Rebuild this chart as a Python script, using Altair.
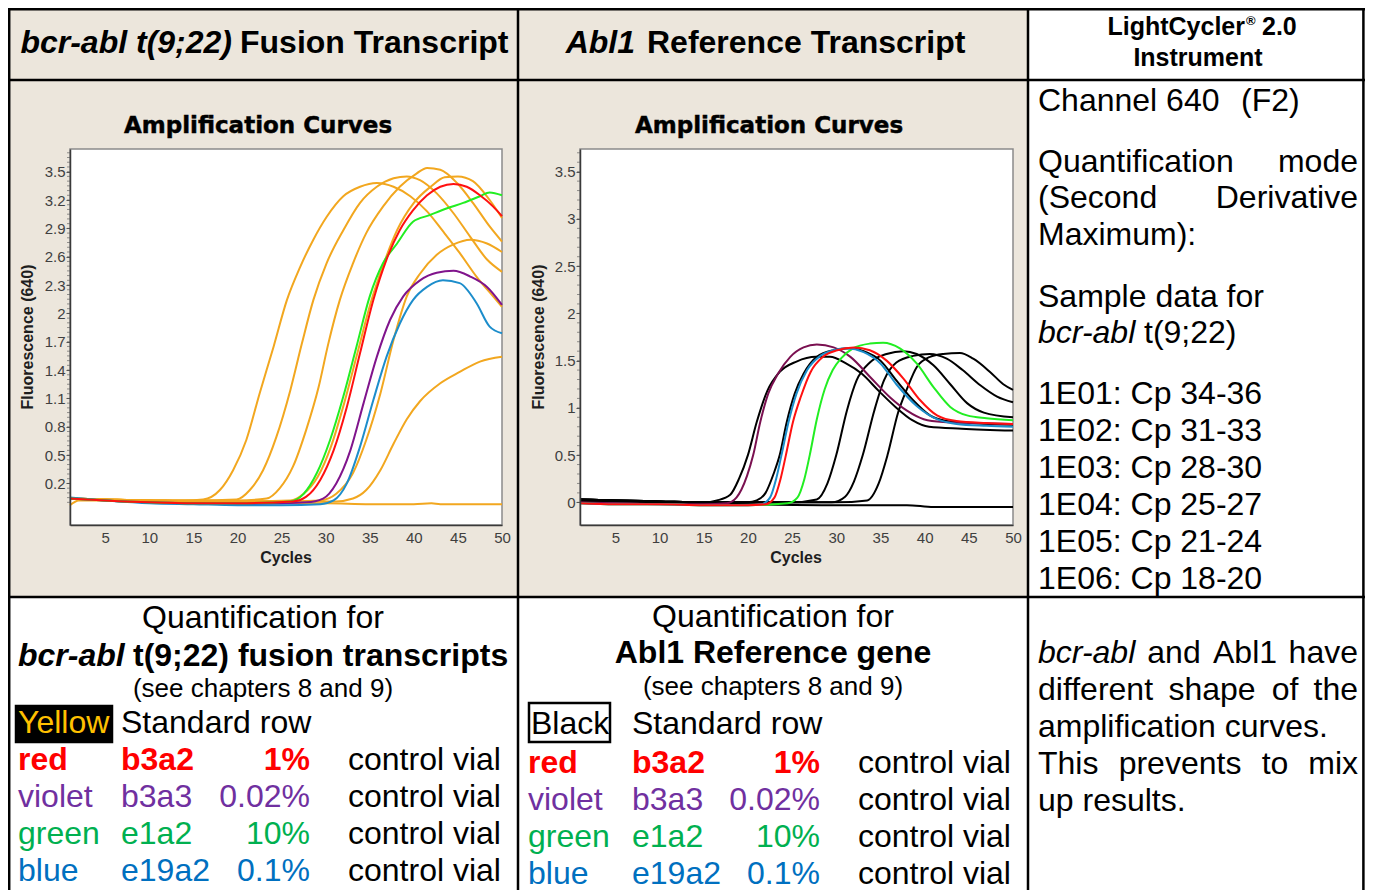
import altair as alt
import pandas as pd

W, H = 1357, 882
OFF = 8
BODY = "Liberation Sans"
HEAVY = "DejaVu Sans"


def cx(v):
    return v - OFF


def cy(v):
    return v - OFF


# ---------------- chart values ----------------
CYCLE_TICKS = [5, 10, 15, 20, 25, 30, 35, 40, 45, 50]
BCR_Y_TICKS = [0.2, 0.5, 0.8, 1.1, 1.4, 1.7, 2.0, 2.3, 2.6, 2.9, 3.2, 3.5]
ABL_Y_TICKS = [0, 0.5, 1, 1.5, 2, 2.5, 3, 3.5]
X_DOMAIN = [1, 50]
Y_DOMAIN = [-0.24, 3.74]

# bcr-abl panel: yellow standard row
BCR_1E06_C = [1, 5, 10, 14, 16.1, 18.0, 19.5, 21.0, 22.5, 24.1, 25.6, 27.1, 28.6, 30.1, 32.0, 33.9, 35.8, 37.7, 39.6, 41.5, 43.3, 45.2, 47.1, 49.0, 50]
BCR_1E06_V = [0.04, 0.03, 0.02, 0.02, 0.03, 0.13, 0.34, 0.66, 1.15, 1.65, 2.14, 2.49, 2.78, 3.02, 3.24, 3.34, 3.38, 3.34, 3.24, 3.08, 2.87, 2.64, 2.39, 2.18, 2.07]
BCR_1E05_C = [1, 5, 10, 15, 19.9, 21.4, 22.9, 24.4, 26.0, 27.3, 28.6, 30.1, 32.0, 33.9, 35.8, 37.7, 39.2, 40.7, 42.6, 44.5, 46.4, 48.3, 50]
BCR_1E05_V = [0.04, 0.03, 0.02, 0.02, 0.03, 0.13, 0.34, 0.69, 1.19, 1.68, 2.14, 2.53, 2.88, 3.17, 3.34, 3.43, 3.45, 3.41, 3.27, 3.06, 2.81, 2.57, 2.44]
BCR_1E04_C = [1, 5, 10, 15, 20, 23.3, 24.8, 26.3, 27.8, 29.2, 30.3, 31.6, 33.1, 34.6, 36.5, 38.4, 40.3, 41.5, 43.0, 44.9, 46.7, 48.6, 50]
BCR_1E04_V = [0.04, 0.03, 0.02, 0.02, 0.02, 0.04, 0.15, 0.38, 0.77, 1.22, 1.68, 2.14, 2.53, 2.85, 3.13, 3.34, 3.48, 3.54, 3.52, 3.38, 3.17, 2.92, 2.76]
BCR_1E03_C = [1, 5, 10, 15, 20, 26.0, 27.5, 29.1, 30.6, 32.1, 33.6, 35.1, 36.6, 38.1, 40.0, 41.9, 43.5, 45.0, 46.7, 48.6, 50]
BCR_1E03_V = [0.04, 0.03, 0.02, 0.01, 0.01, 0.02, 0.09, 0.27, 0.59, 1.05, 1.58, 2.11, 2.53, 2.88, 3.17, 3.34, 3.44, 3.45, 3.40, 3.20, 3.01]
BCR_1E02_C = [1, 5, 10, 15, 20, 25, 29.4, 31.2, 33.1, 34.6, 36.2, 37.7, 39.2, 40.7, 42.6, 44.5, 46.4, 48.3, 50]
BCR_1E02_V = [0.04, 0.03, 0.02, 0.01, 0.01, 0.01, 0.02, 0.09, 0.31, 0.66, 1.15, 1.72, 2.18, 2.42, 2.62, 2.73, 2.78, 2.74, 2.65]
BCR_1E01_C = [1, 5, 10, 15, 20, 25, 31.2, 33.1, 34.6, 36.2, 37.7, 39.2, 40.7, 43.0, 45.2, 47.5, 50]
BCR_1E01_V = [0.04, 0.03, 0.02, 0.01, 0.01, 0.01, 0.01, 0.04, 0.13, 0.34, 0.62, 0.88, 1.07, 1.26, 1.38, 1.49, 1.54]
BCR_NEG_C = [1, 2, 5, 10, 15, 20, 25, 30, 35, 40, 42, 43, 45, 50]
BCR_NEG_V = [-0.03, 0.02, 0.02, 0.01, 0.0, -0.01, -0.01, -0.01, -0.02, -0.02, -0.01, -0.02, -0.02, -0.02]

# bcr-abl panel: control vials
BCR_RED_C = [1, 5, 10, 15, 20, 26.3, 27.8, 29.4, 30.9, 32.4, 33.9, 35.4, 36.9, 38.4, 39.9, 41.5, 43.0, 44.5, 46.0, 47.5, 49.0, 50]
BCR_RED_V = [0.04, 0.02, 0.0, -0.01, -0.01, 0.01, 0.06, 0.24, 0.55, 1.01, 1.58, 2.14, 2.57, 2.88, 3.09, 3.25, 3.34, 3.37, 3.34, 3.25, 3.13, 3.03]
BCR_GREEN_C = [1, 5, 10, 15, 20, 26.0, 27.5, 29.0, 30.5, 32.0, 33.5, 35.0, 36.5, 38.1, 39.9, 41.8, 43.7, 45.6, 47.5, 48.6, 50]
BCR_GREEN_V = [0.04, 0.02, 0.0, -0.01, -0.01, 0.01, 0.09, 0.31, 0.66, 1.12, 1.65, 2.18, 2.53, 2.74, 2.97, 3.04, 3.11, 3.17, 3.24, 3.28, 3.25]
BCR_VIOLET_C = [1, 5, 10, 15, 20, 27.8, 29.7, 31.2, 32.8, 34.3, 35.8, 37.3, 38.8, 40.7, 42.6, 44.5, 46.4, 48.3, 50]
BCR_VIOLET_V = [0.04, 0.02, 0.0, -0.01, -0.02, 0.0, 0.04, 0.20, 0.55, 1.05, 1.54, 1.93, 2.18, 2.35, 2.43, 2.45, 2.39, 2.28, 2.09]
BCR_BLUE_C = [1, 5, 10, 15, 20, 25, 29.4, 30.9, 32.4, 33.9, 35.4, 36.9, 38.4, 39.9, 41.5, 43.3, 45.2, 47.1, 48.6, 50]
BCR_BLUE_V = [0.05, 0.02, -0.01, -0.02, -0.03, -0.03, -0.02, 0.02, 0.20, 0.59, 1.08, 1.54, 1.89, 2.14, 2.28, 2.35, 2.32, 2.11, 1.86, 1.79]

# Abl1 panel: black standard row
ABL_S1_C = [1, 5, 10, 15, 16.5, 18.0, 19.0, 20.0, 21.0, 22.2, 23.6, 25.5, 27.7, 29.3, 31.1, 32.9, 34.8, 36.7, 38.6, 40.5, 44.2, 50]
ABL_S1_V = [0.03, 0.02, 0.01, 0.0, 0.02, 0.08, 0.25, 0.5, 0.85, 1.18, 1.38, 1.49, 1.54, 1.54, 1.47, 1.36, 1.18, 1.01, 0.87, 0.80, 0.78, 0.76]
ABL_S2_C = [1, 5, 10, 15, 20, 21.0, 22.0, 22.9, 23.6, 24.4, 25.3, 26.3, 27.8, 29.7, 31.6, 33.1, 35.0, 36.8, 38.7, 40.6, 42.5, 45.2, 50]
ABL_S2_V = [0.03, 0.02, 0.01, 0.0, 0.0, 0.02, 0.1, 0.3, 0.5, 0.85, 1.15, 1.36, 1.54, 1.61, 1.63, 1.60, 1.50, 1.29, 1.08, 0.92, 0.86, 0.84, 0.82]
ABL_S3_C = [1, 5, 10, 15, 20, 25, 27.8, 29.0, 30.0, 31.2, 32.3, 33.8, 35.7, 37.6, 39.1, 41.0, 42.9, 44.8, 46.7, 50]
ABL_S3_V = [0.03, 0.02, 0.01, 0.0, 0.0, 0.0, 0.03, 0.2, 0.5, 0.97, 1.29, 1.48, 1.57, 1.60, 1.57, 1.45, 1.25, 1.05, 0.95, 0.90]
ABL_S4_C = [1, 5, 10, 15, 20, 25, 29.5, 31.0, 32.0, 33.0, 34.3, 35.4, 36.8, 38.7, 40.6, 42.5, 44.3, 46.3, 48.2, 50]
ABL_S4_V = [0.03, 0.02, 0.01, 0.0, 0.0, 0.0, 0.0, 0.06, 0.22, 0.5, 0.97, 1.29, 1.48, 1.55, 1.57, 1.52, 1.40, 1.24, 1.12, 1.06]
ABL_S5_C = [1, 5, 10, 15, 20, 25, 30, 33.5, 34.8, 35.8, 37.0, 38.0, 39.1, 40.6, 42.1, 44.0, 45.5, 47.4, 48.9, 50]
ABL_S5_V = [0.03, 0.02, 0.01, 0.0, 0.0, 0.0, 0.0, 0.02, 0.2, 0.5, 0.95, 1.2, 1.43, 1.54, 1.57, 1.58, 1.52, 1.38, 1.25, 1.19]
ABL_NEG_C = [1, 3, 10, 20, 30, 38, 41, 45, 50]
ABL_NEG_V = [0.01, 0.01, 0.0, -0.02, -0.03, -0.03, -0.05, -0.05, -0.05]

# Abl1 panel: control vials
ABL_VIOLET_C = [1, 5, 10, 15, 17.6, 18.7, 19.9, 20.6, 21.4, 22.3, 23.4, 24.8, 26.3, 27.8, 29.7, 31.6, 33.8, 36.1, 38.0, 39.9, 42.1, 45.2, 50]
ABL_VIOLET_V = [0.0, -0.01, -0.02, -0.02, -0.01, 0.05, 0.28, 0.5, 0.85, 1.15, 1.36, 1.54, 1.64, 1.67, 1.64, 1.54, 1.33, 1.11, 0.97, 0.88, 0.85, 0.84, 0.83]
ABL_BLUE_C = [1, 5, 10, 15, 20, 21.5, 22.5, 23.2, 23.8, 24.6, 25.5, 26.7, 28.2, 29.7, 31.2, 33.1, 35.0, 36.8, 39.1, 41.4, 43.6, 47.0, 50]
ABL_BLUE_V = [-0.01, -0.02, -0.02, -0.03, -0.03, -0.02, 0.05, 0.25, 0.5, 0.85, 1.15, 1.40, 1.55, 1.61, 1.63, 1.59, 1.47, 1.25, 1.02, 0.88, 0.83, 0.81, 0.80]
ABL_RED_C = [1, 5, 10, 15, 20, 22.0, 23.0, 23.7, 24.3, 25.1, 26.0, 27.1, 28.5, 30.1, 32.0, 33.8, 35.7, 37.6, 39.5, 41.4, 43.6, 47.0, 50]
ABL_RED_V = [-0.01, -0.02, -0.02, -0.03, -0.03, -0.02, 0.05, 0.25, 0.5, 0.85, 1.12, 1.38, 1.54, 1.61, 1.64, 1.61, 1.50, 1.31, 1.08, 0.92, 0.86, 0.84, 0.83]
ABL_GREEN_C = [1, 5, 10, 15, 20, 24.5, 25.6, 26.4, 27.0, 27.8, 28.7, 29.6, 30.6, 31.9, 33.8, 35.3, 37.2, 39.1, 41.0, 42.9, 44.8, 47.0, 50]
ABL_GREEN_V = [-0.01, -0.02, -0.02, -0.03, -0.03, -0.01, 0.05, 0.25, 0.5, 0.88, 1.20, 1.40, 1.53, 1.63, 1.68, 1.69, 1.63, 1.47, 1.22, 1.01, 0.92, 0.89, 0.87]

# ---------------- texts ----------------
CONTROL_NAMES = ["red", "violet", "green", "blue"]
CONTROL_CODES = ["b3a2", "b3a3", "e1a2", "e19a2"]
CONTROL_PCTS = ["1%", "0.02%", "10%", "0.1%"]
CONTROL_TEXT_COLORS = ["#FF0000", "#7030A0", "#00B050", "#0070C0"]
SAMPLE_LINES = ["1E01: Cp 34-36", "1E02: Cp 31-33", "1E03: Cp 28-30",
                "1E04: Cp 25-27", "1E05: Cp 21-24", "1E06: Cp 18-20"]

# ---------------- styles ----------------
BEIGE = "#ECE6DC"
ORANGE = "#F2A71F"
CTRL_DOMAIN = ["red", "violet", "green", "blue"]
BCR_CTRL_COLORS = ["#FF1010", "#80148C", "#22EE22", "#1C8DCB"]
ABL_CTRL_COLORS = ["#FF1010", "#7A1050", "#22EE22", "#1C8DCB"]

DUMMY = pd.DataFrame({"k": [0]})


def curves_df(curves):
    rows = []
    for name, group, cs, vs in curves:
        for c, v in zip(cs, vs):
            rows.append({"curve": name, "group": group, "cycle": c, "value": v})
    return pd.DataFrame(rows)


bcr_std = curves_df([
    ("1E06", "std", BCR_1E06_C, BCR_1E06_V), ("1E05", "std", BCR_1E05_C, BCR_1E05_V),
    ("1E04", "std", BCR_1E04_C, BCR_1E04_V), ("1E03", "std", BCR_1E03_C, BCR_1E03_V),
    ("1E02", "std", BCR_1E02_C, BCR_1E02_V), ("1E01", "std", BCR_1E01_C, BCR_1E01_V),
    ("neg", "std", BCR_NEG_C, BCR_NEG_V)])
bcr_ctrl = curves_df([
    ("violet", "violet", BCR_VIOLET_C, BCR_VIOLET_V), ("blue", "blue", BCR_BLUE_C, BCR_BLUE_V),
    ("green", "green", BCR_GREEN_C, BCR_GREEN_V), ("red", "red", BCR_RED_C, BCR_RED_V)])
abl_std = curves_df([
    ("S1", "std", ABL_S1_C, ABL_S1_V), ("S2", "std", ABL_S2_C, ABL_S2_V),
    ("S3", "std", ABL_S3_C, ABL_S3_V), ("S4", "std", ABL_S4_C, ABL_S4_V),
    ("S5", "std", ABL_S5_C, ABL_S5_V), ("neg", "std", ABL_NEG_C, ABL_NEG_V)])
abl_ctrl = curves_df([
    ("violet", "violet", ABL_VIOLET_C, ABL_VIOLET_V), ("green", "green", ABL_GREEN_C, ABL_GREEN_V),
    ("blue", "blue", ABL_BLUE_C, ABL_BLUE_V), ("red", "red", ABL_RED_C, ABL_RED_V)])


def amp_plot(std_df, ctrl_df, x0, x1, y0, y1, yticks, minor_vals, std_color, ctrl_colors):
    xs = alt.Scale(domain=X_DOMAIN, range=[cx(x0), cx(x1)], nice=False, zero=False)
    ys = alt.Scale(domain=Y_DOMAIN, range=[cy(y1), cy(y0)], nice=False, zero=False)
    xaxis = alt.Axis(orient="bottom", offset=cy(y1) - H, values=CYCLE_TICKS, ticks=False,
                     tickSize=0, title=None, grid=False, labelFont=BODY, labelFontSize=15,
                     labelColor="#3f3f3f", labelPadding=5, domainColor="#3a3a3a",
                     domainWidth=1.5, zindex=1, labelFlush=False)
    yaxis = alt.Axis(orient="left", offset=-cx(x0), values=yticks, format="~g", tickSize=4,
                     tickColor="#555555", title=None, grid=False, labelFont=BODY,
                     labelFontSize=15, labelColor="#3f3f3f", labelPadding=1,
                     domainColor="#3a3a3a", domainWidth=1.5, zindex=1, labelFlush=False)
    frame = alt.Chart(DUMMY).mark_rect(fill="white", stroke="#8a8a8a", strokeWidth=1.5).encode(
        x=alt.value(cx(x0)), x2=alt.value(cx(x1)), y=alt.value(cy(y0)), y2=alt.value(cy(y1)))
    std = alt.Chart(std_df).mark_line(interpolate="monotone", strokeWidth=2, color=std_color).encode(
        x=alt.X("cycle:Q", scale=xs, axis=xaxis),
        y=alt.Y("value:Q", scale=ys, axis=yaxis),
        detail="curve:N")
    ctrl = alt.Chart(ctrl_df).mark_line(interpolate="monotone", strokeWidth=2).encode(
        x=alt.X("cycle:Q", scale=xs, axis=xaxis),
        y=alt.Y("value:Q", scale=ys, axis=yaxis),
        color=alt.Color("group:N", scale=alt.Scale(domain=CTRL_DOMAIN, range=ctrl_colors), legend=None),
        detail="curve:N")
    minor = alt.Chart(pd.DataFrame({"value": minor_vals})).mark_tick(
        orient="horizontal", size=3, thickness=1, color="#666666").encode(
        x=alt.value(cx(x0) - 1.5), y=alt.Y("value:Q", scale=ys, axis=yaxis))
    return alt.layer(frame, std, ctrl, minor)


bcr_minor = [round(0.05 * i, 2) for i in range(0, 75)]
abl_minor = [round(0.1 * i, 1) for i in range(0, 38)]

plot1 = amp_plot(bcr_std, bcr_ctrl, 70, 502, 149, 525, BCR_Y_TICKS, bcr_minor, ORANGE, BCR_CTRL_COLORS)
plot2 = amp_plot(abl_std, abl_ctrl, 580, 1013, 149, 525, ABL_Y_TICKS, abl_minor, "#000000", ABL_CTRL_COLORS)

# ---------------- background cells and borders ----------------
bg = pd.DataFrame([
    {"x": cx(8), "x2": cx(1028), "y": 0, "y2": cy(597)},
])
bg_layer = alt.Chart(bg).mark_rect(fill=BEIGE).encode(
    x=alt.X("x:Q", scale=None, axis=None), x2="x2:Q",
    y=alt.Y("y:Q", scale=None, axis=None), y2="y2:Q")

boxes = pd.DataFrame([
    {"x": cx(16), "x2": cx(112), "y": cy(706), "y2": cy(742), "fill": "#000000"},
    {"x": cx(529), "x2": cx(610), "y": cy(703), "y2": cy(742), "fill": "#FFFFFF"},
])
box_layer = alt.Chart(boxes).mark_rect(stroke="black", strokeWidth=2.5).encode(
    x=alt.X("x:Q", scale=None, axis=None), x2="x2:Q",
    y=alt.Y("y:Q", scale=None, axis=None), y2="y2:Q",
    fill=alt.Fill("fill:N", scale=None, legend=None))

RIGHT_EDGE = W - 1.6
segs = pd.DataFrame([
    {"x": 1.2, "x2": 1.2, "y": 0, "y2": H},
    {"x": cx(518), "x2": cx(518), "y": 0, "y2": H},
    {"x": cx(1028), "x2": cx(1028), "y": 0, "y2": H},
    {"x": RIGHT_EDGE, "x2": RIGHT_EDGE, "y": 0, "y2": H},
    {"x": 0, "x2": W, "y": 1.2, "y2": 1.2},
    {"x": 0, "x2": W, "y": cy(80), "y2": cy(80)},
    {"x": 0, "x2": W, "y": cy(597), "y2": cy(597)},
])
border_layer = alt.Chart(segs).mark_rule(color="black", strokeWidth=2.5).encode(
    x=alt.X("x:Q", scale=None, axis=None), x2="x2:Q",
    y=alt.Y("y:Q", scale=None, axis=None), y2="y2:Q")

# ---------------- text items ----------------
items = []


def T(x, y, text, size=32, color="#000000", weight="normal", style="normal",
      align="left", font=BODY, angle=0, stroke=0.0):
    items.append(dict(x=cx(x), y=cy(y), text=text, size=size, color=color,
                      weight=weight, style=style, align=align, font=font, angle=angle,
                      stroke=stroke))


# header row
T(232, 53, "bcr-abl t(9;22)", 32, weight="bold", style="italic", align="right")
T(240, 53, "Fusion Transcript", 32, weight="bold")
T(635, 53, "Abl1", 32, weight="bold", style="italic", align="right")
T(647, 53, "Reference Transcript", 32, weight="bold")
T(1245, 35, "LightCycler", 25, weight="bold", align="right")
T(1246, 25, "®", 13, weight="bold")
T(1262, 35, "2.0", 25, weight="bold")
T(1198, 66, "Instrument", 25, weight="bold", align="center")

# plot titles
T(258, 133, "Amplification Curves", 23, weight="bold", align="center", font=HEAVY, stroke=0.45)
T(769, 133, "Amplification Curves", 23, weight="bold", align="center", font=HEAVY, stroke=0.45)
T(286, 563, "Cycles", 16, color="#1e1e1e", weight="bold", align="center")
T(796, 563, "Cycles", 16, color="#1e1e1e", weight="bold", align="center")
T(28, 337, "Fluorescence (640)", 16, color="#1e1e1e", weight="bold", align="center", angle=270)
T(539, 337, "Fluorescence (640)", 16, color="#1e1e1e", weight="bold", align="center", angle=270)

# right column
T(1038, 111, "Channel 640")
T(1241, 111, "(F2)")
T(1038, 172, "Quantification")
T(1358, 172, "mode", align="right")
T(1038, 208, "(Second")
T(1358, 208, "Derivative", align="right")
T(1038, 245, "Maximum):")
T(1038, 307, "Sample data for")
T(1038, 343, "bcr-abl", style="italic")
T(1144, 343, "t(9;22)")
for i, line in enumerate(SAMPLE_LINES):
    T(1038, 404 + 37 * i, line)

# bottom left
T(263, 628, "Quantification for", align="center")
T(18, 666, "bcr-abl", weight="bold", style="italic")
T(133, 666, "t(9;22) fusion transcripts", weight="bold")
T(263, 697, "(see chapters 8 and 9)", 26, align="center")
T(18, 733, "Yellow", color="#FFC000")
T(121, 733, "Standard row")
for i in range(4):
    yy = 770 + 37 * i
    w = "bold" if i == 0 else "normal"
    col = CONTROL_TEXT_COLORS[i]
    T(18, yy, CONTROL_NAMES[i], color=col, weight=w)
    T(121, yy, CONTROL_CODES[i], color=col, weight=w)
    T(310, yy, CONTROL_PCTS[i], color=col, weight=w, align="right")
    T(348, yy, "control vial")

# bottom middle
T(773, 627, "Quantification for", align="center")
T(773, 663, "Abl1 Reference gene", weight="bold", align="center")
T(773, 695, "(see chapters 8 and 9)", 26, align="center")
T(531, 734, "Black")
T(632, 734, "Standard row")
for i in range(4):
    yy = 773 + 37 * i
    w = "bold" if i == 0 else "normal"
    col = CONTROL_TEXT_COLORS[i]
    T(528, yy, CONTROL_NAMES[i], color=col, weight=w)
    T(632, yy, CONTROL_CODES[i], color=col, weight=w)
    T(820, yy, CONTROL_PCTS[i], color=col, weight=w, align="right")
    T(858, yy, "control vial")

# bottom right (justified paragraph)
T(1038, 663, "bcr-abl", style="italic")
T(1174, 663, "and", align="center")
T(1245, 663, "Abl1", align="center")
T(1358, 663, "have", align="right")
T(1038, 700, "different")
T(1212, 700, "shape", align="center")
T(1285, 700, "of", align="center")
T(1358, 700, "the", align="right")
T(1038, 737, "amplification curves.")
T(1038, 774, "This")
T(1180, 774, "prevents", align="center")
T(1275, 774, "to", align="center")
T(1358, 774, "mix", align="right")
T(1038, 811, "up results.")

tdf = pd.DataFrame(items)
text_layers = []
for (w, s, a, f, ang, stw), g in tdf.groupby(["weight", "style", "align", "font", "angle", "stroke"]):
    mark_kw = dict(align=a, baseline="alphabetic", fontWeight=w, fontStyle=s, font=f)
    if ang:
        mark_kw["angle"] = int(ang)
        mark_kw["baseline"] = "middle"
    if stw:
        mark_kw["stroke"] = "#000000"
        mark_kw["strokeWidth"] = float(stw)
    text_layers.append(
        alt.Chart(g[["x", "y", "text", "size", "color"]].reset_index(drop=True)).mark_text(**mark_kw).encode(
            x=alt.X("x:Q", scale=None, axis=None),
            y=alt.Y("y:Q", scale=None, axis=None),
            text="text:N",
            size=alt.Size("size:Q", scale=None, legend=None),
            color=alt.Color("color:N", scale=None, legend=None)))

chart = alt.layer(bg_layer, plot1, plot2, box_layer, *text_layers, border_layer).resolve_scale(
    x="independent", y="independent", color="independent"
).resolve_axis(x="independent", y="independent").properties(
    width=W, height=H, padding=0, autosize=alt.AutoSizeParams(type="none")
).configure_view(stroke=None)

chart.save("out.html", embed_options={"renderer": "svg", "actions": False})
